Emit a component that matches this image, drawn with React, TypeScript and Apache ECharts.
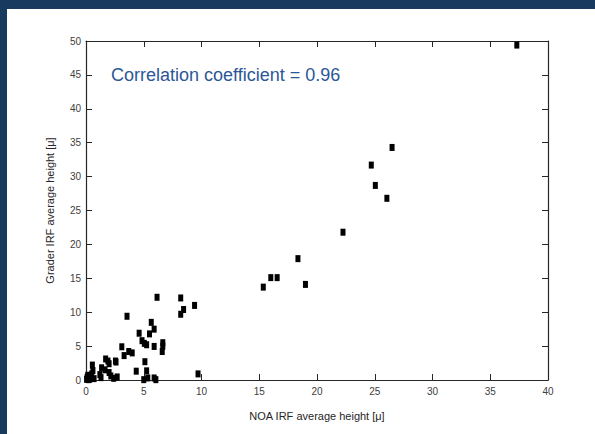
import React, { useEffect, useRef } from "react";
import * as echarts from "echarts";

const noaHeight: number[] = [
  0.05, 0.1, 0.2, 0.3, 0.15, 0.4, 0.5, 0.6, 0.55, 0.3, 0.7,
  1.2, 1.3, 1.35, 1.65, 1.7, 1.9, 2.0, 2.0, 2.15, 2.4, 2.55, 2.7, 2.6,
  3.1, 3.3, 3.55, 3.7, 4.0, 4.35, 4.6, 4.85, 5.05, 5.25, 5.1, 5.25,
  5.0, 5.35, 5.65, 5.5, 5.9, 5.9, 5.9, 6.05, 6.15, 6.65, 6.65, 6.6,
  8.2, 8.2, 8.45, 9.4, 9.7,
  15.35, 16.0, 16.55, 18.35, 19.0, 22.25, 24.7, 25.05, 26.05, 26.5, 37.3,
];
const graderHeight: number[] = [
  0.1, 0.4, 0.05, 0.3, 0.7, 0.6, 0.9, 1.4, 2.2, 0.1, 0.2,
  0.8, 0.35, 1.8, 1.5, 3.1, 2.8, 2.4, 1.1, 0.6, 0.25, 2.8, 0.45, 2.65,
  4.9, 3.6, 9.4, 4.2, 4.0, 1.3, 6.9, 5.8, 5.4, 5.2, 2.7, 1.35,
  0.05, 0.3, 8.5, 6.8, 7.5, 4.95, 0.3, 0.05, 12.2, 5.5, 5.0, 4.2,
  12.1, 9.7, 10.4, 11.0, 0.9,
  13.7, 15.1, 15.1, 17.9, 14.1, 21.8, 31.7, 28.7, 26.8, 34.3, 49.4,
];

const xTitle = "NOA IRF average height [\u03bc]";
const yTitle = "Grader IRF average height [\u03bc]";
const annotation = "Correlation coefficient = 0.96";

const NAVY = "#173A5E";
const AXIS = "#262626";
const LABEL = "#404040";
const FONT = "'Liberation Sans', Arial, sans-serif";

export default function App() {
  const ref = useRef<HTMLDivElement>(null);
  useEffect(() => {
    if (!ref.current) return;
    const chart = echarts.init(ref.current, null, { renderer: "svg" });
    const points = noaHeight.map((x, i) => [x, graderHeight[i]]);
    const tickStyle = { show: true, inside: true, length: 6, lineStyle: { color: AXIS, width: 1 } };
    const lineStyle = { show: true, onZero: false, lineStyle: { color: AXIS, width: 1.2 } };
    const labelStyle = { color: LABEL, fontSize: 10, fontFamily: "'Liberation Sans Narrow', 'Liberation Sans', Arial, sans-serif" };
    chart.setOption({
      animation: false,
      backgroundColor: "#ffffff",
      grid: { left: 86, right: 47, top: 41, bottom: 54, containLabel: false },
      xAxis: [
        {
          type: "value", min: 0, max: 40, interval: 5, position: "bottom",
          axisLine: lineStyle, axisTick: tickStyle,
          axisLabel: { ...labelStyle, margin: 6 },
          splitLine: { show: false },
          name: xTitle, nameLocation: "middle", nameGap: 30,
          nameTextStyle: { color: "#262626", fontSize: 11, fontFamily: FONT },
        },
        {
          type: "value", min: 0, max: 40, interval: 5, position: "top",
          axisLine: lineStyle, axisTick: tickStyle,
          axisLabel: { show: false }, splitLine: { show: false },
        },
      ],
      yAxis: [
        {
          type: "value", min: 0, max: 50, interval: 5, position: "left",
          axisLine: lineStyle, axisTick: tickStyle,
          axisLabel: { ...labelStyle, margin: 5 },
          splitLine: { show: false },
          name: yTitle, nameLocation: "middle", nameGap: 31,
          nameTextStyle: { color: "#262626", fontSize: 11, fontFamily: FONT },
        },
        {
          type: "value", min: 0, max: 50, interval: 5, position: "right",
          axisLine: lineStyle, axisTick: tickStyle,
          axisLabel: { show: false }, splitLine: { show: false },
        },
      ],
      series: [
        {
          type: "scatter",
          xAxisIndex: 0,
          yAxisIndex: 0,
          data: points,
          symbol: "rect",
          symbolSize: [5, 7],
          itemStyle: { color: "#000000", opacity: 1 },
          emphasis: { disabled: true },
        },
      ],
      graphic: [
        { type: "rect", left: 0, top: 0, shape: { width: 595, height: 9 }, style: { fill: NAVY }, silent: true },
        { type: "rect", left: 0, top: 0, shape: { width: 7, height: 434 }, style: { fill: NAVY }, silent: true },
        {
          type: "text", left: 111, top: 66,
          style: { text: annotation, fill: "#2B5797", fontSize: 18, fontFamily: FONT },
        },
      ],
    });
    return () => chart.dispose();
  }, []);
  return (
    <div style={{ position: "fixed", left: 0, top: 0, width: 595, height: 434 }}>
      <div ref={ref} style={{ width: 595, height: 434 }} />
    </div>
  );
}
